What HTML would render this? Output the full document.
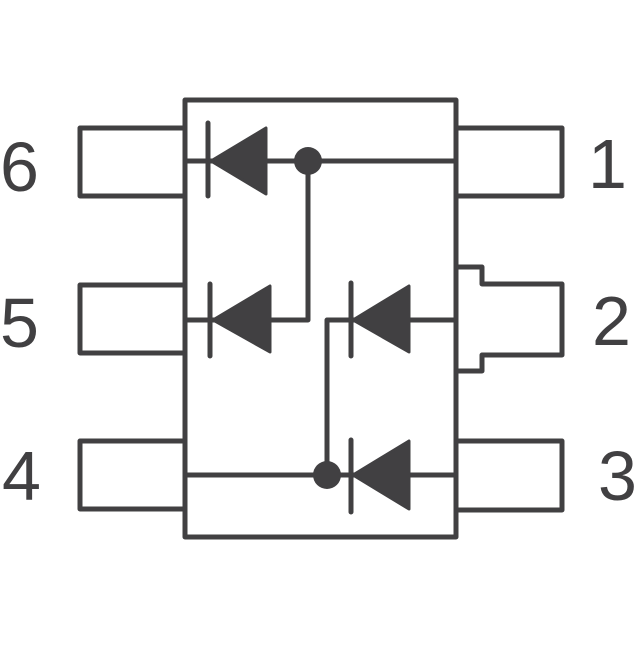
<!DOCTYPE html>
<html><head><style>body{margin:0;background:#fff}</style></head><body>
<svg width="640" height="640" viewBox="0 0 640 640" xmlns="http://www.w3.org/2000/svg">
<g fill="none" stroke="#414042" stroke-width="5" stroke-linejoin="round" stroke-linecap="round">
<rect x="185" y="100" width="271" height="437"/>
<path d="M185 128H80V196H185"/>
<path d="M185 285H80V353H185"/>
<path d="M185 441H80V509H185"/>
<path d="M456 128H562V196H456"/>
<path d="M456 267H482V284H562V355H482V371H456"/>
<path d="M456 441H562V510H456"/>
<path d="M185 161H456"/>
<path d="M308 161V320H185"/>
<path d="M327 475V320H456"/>
<path d="M185 475H456"/>
<path d="M208 123V196M210 284V356M351 283V356M351 440V512"/>
</g>
<g fill="#414042" stroke="#414042" stroke-width="3" stroke-linejoin="round">
<path d="M211 161L266 128V194Z"/>
<path d="M213 320L270 286V352Z"/>
<path d="M353 320L409 286V352Z"/>
<path d="M353 475L409 441V509Z"/>
</g>
<circle cx="308" cy="161" r="14" fill="#414042"/>
<circle cx="327" cy="475" r="14" fill="#414042"/>
<g font-family="Liberation Sans, sans-serif" font-size="70" fill="#414042">
<text x="0" y="191">6</text>
<text x="0" y="347">5</text>
<text x="2" y="500">4</text>
<text x="588" y="188">1</text>
<text x="592" y="345">2</text>
<text x="598" y="500">3</text>
</g>
</svg>
</body></html>
